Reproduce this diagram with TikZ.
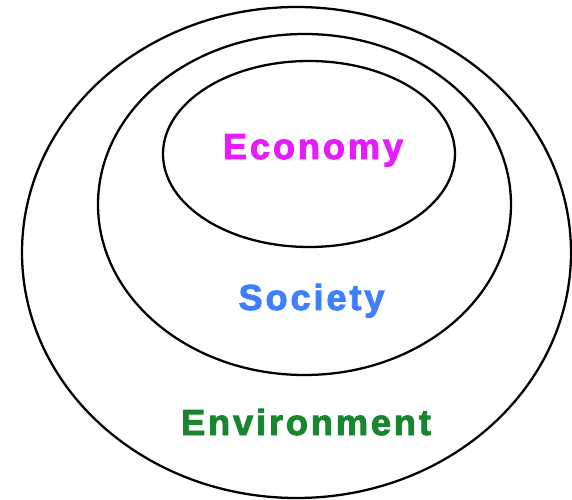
\documentclass[tikz,border=0pt]{standalone}
\usepackage{fontspec}
\setmainfont{Liberation Sans}
\newfontfamily\spherefont[LetterSpace=7.9,FakeBold=2.5]{Liberation Sans}
\usepackage{tikz}
\definecolor{econmagenta}{RGB}{230,28,255}
\definecolor{socblue}{RGB}{63,127,255}
\definecolor{envgreen}{RGB}{23,134,47}
\tikzset{ring/.style={draw, black, line width=1.3pt},
  sphere/.style={font=\spherefont\fontsize{20.6}{24}\selectfont\bfseries, anchor=base, inner sep=0pt}}

\begin{document}
\begin{tikzpicture}[x=0.02cm, y=-0.02cm]
\useasboundingbox (0,0) rectangle (572,500);
%\draw (0,0) rectangle (572,500);
\draw [ring] (296.5,252.5) ellipse (274.5 and 245.5);
\draw [ring] (304.5,204.5) ellipse (206.5 and 170.5);
\draw [ring] (309,154) ellipse (146 and 93);
\node [sphere, econmagenta] (economy) at (313,159) {Economy};
\node [sphere, socblue] (society) at (311.5,310) {Society};
\node [sphere, envgreen] (environment) at (306,435) {Environment};
\end{tikzpicture}
\end{document}
